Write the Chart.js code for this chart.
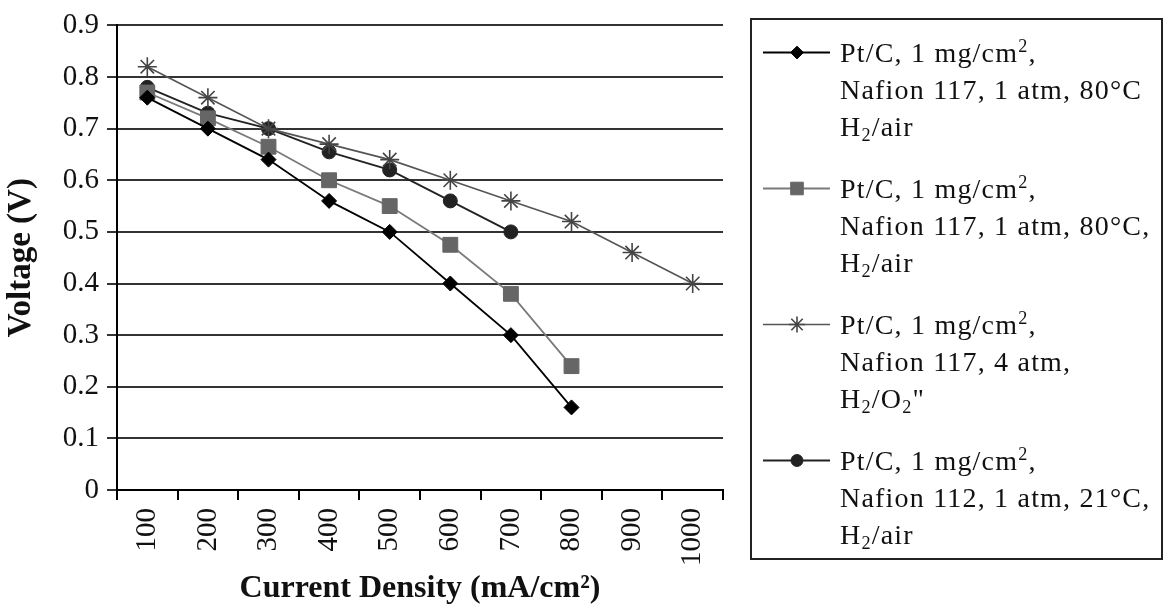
<!DOCTYPE html>
<html>
<head>
<meta charset="utf-8">
<title>Voltage vs Current Density</title>
<script src="https://cdn.jsdelivr.net/npm/chart.js@4.4.1/dist/chart.umd.min.js"></script>
<style>
  body { margin: 0; background: #fff; }
  #wrap { position: relative; width: 1164px; height: 611px; }
  #legend {
    position: absolute; left: 750px; top: 18px; width: 413px; height: 542px;
    box-sizing: border-box; border: 2px solid #222; padding-top: 14px;
    font-family: "Liberation Serif", "Times New Roman", serif;
    font-size: 28px; letter-spacing: 1.2px; color: #111; line-height: 37px;
  }
  .entry { display: flex; align-items: flex-start; margin-bottom: 25px; }
  .entry canvas { margin-left: 11px; flex: none; }
  .entry .txt { margin-left: 7px; white-space: nowrap; }
  sup, sub { font-size: 0.65em; line-height: 0; }
  sup { vertical-align: 0.55em; }
  sub { vertical-align: -0.3em; }
</style>
</head>
<body>
<div id="wrap">
  <canvas id="polCurve"></canvas>
  <div id="legend"></div>
</div>
<script>
// current density categories (mA/cm2)
const currentDensity = ['100', '200', '300', '400', '500', '600', '700', '800', '900', '1000'];

// cell voltage (V) for each run
const nafion117Air80 = [0.76, 0.70, 0.64, 0.56, 0.50, 0.40, 0.30, 0.16];
const nafion117Air80b = [0.77, 0.72, 0.665, 0.60, 0.55, 0.475, 0.38, 0.24];
const nafion117O2 = [0.82, 0.76, 0.70, 0.67, 0.64, 0.60, 0.56, 0.52, 0.46, 0.40];
const nafion112Air21 = [0.78, 0.73, 0.70, 0.655, 0.62, 0.56, 0.50];

// legend text, one entry per line
const legendText = [
  ['Pt/C, 1 mg/cm<sup>2</sup>,', 'Nafion 117, 1 atm, 80°C', 'H<sub>2</sub>/air'],
  ['Pt/C, 1 mg/cm<sup>2</sup>,', 'Nafion 117, 1 atm, 80°C,', 'H<sub>2</sub>/air'],
  ['Pt/C, 1 mg/cm<sup>2</sup>,', 'Nafion 117, 4 atm,', 'H<sub>2</sub>/O<sub>2</sub>"'],
  ['Pt/C, 1 mg/cm<sup>2</sup>,', 'Nafion 112, 1 atm, 21°C,', 'H<sub>2</sub>/air']
];

const serif = '"Liberation Serif", "Times New Roman", serif';
Chart.defaults.font.family = serif;
Chart.defaults.color = '#111';

const ctx = document.getElementById('polCurve').getContext('2d');
const chart = new Chart(ctx, {
  type: 'line',
  data: {
    labels: currentDensity,
    datasets: [
      {
        label: 'Pt/C, 1 mg/cm², Nafion 117, 1 atm, 80°C H₂/air',
        data: nafion117Air80,
        borderColor: '#000', borderWidth: 1.8,
        pointStyle: 'rectRot', pointRadius: 7.5,
        pointBackgroundColor: '#000', pointBorderColor: '#000', pointBorderWidth: 1
      },
      {
        label: 'Pt/C, 1 mg/cm², Nafion 117, 1 atm, 80°C, H₂/air',
        data: nafion117Air80b,
        borderColor: '#7a7a7a', borderWidth: 1.8,
        pointStyle: 'rect', pointRadius: 10.5,
        pointBackgroundColor: '#666', pointBorderColor: '#666', pointBorderWidth: 1
      },
      {
        label: 'Pt/C, 1 mg/cm², Nafion 117, 4 atm, H₂/O₂"',
        data: nafion117O2,
        borderColor: '#555', borderWidth: 1.6,
        pointStyle: 'star', pointRadius: 9.5,
        pointBackgroundColor: '#444', pointBorderColor: '#444', pointBorderWidth: 1.6
      },
      {
        label: 'Pt/C, 1 mg/cm², Nafion 112, 1 atm, 21°C, H₂/air',
        data: nafion112Air21,
        borderColor: '#222', borderWidth: 1.8,
        pointStyle: 'circle', pointRadius: 7,
        pointBackgroundColor: '#222', pointBorderColor: '#222', pointBorderWidth: 1
      }
    ]
  },
  options: {
    responsive: true,
    maintainAspectRatio: false,
    animation: false,
    layout: { padding: { top: 20, right: 441, bottom: 0, left: 0 } },
    plugins: {
      legend: { display: false },
      tooltip: { enabled: false }
    },
    scales: {
      x: {
        offset: true,
        afterFit: s => { s.height = 121; },
        grid: {
          offset: true,
          drawOnChartArea: true,
          tickLength: 10,
          tickColor: '#000',
          lineWidth: 2,
          // only the right-hand frame line is drawn across the plot
          color: c => (c.index === currentDensity.length ? '#000' : 'rgba(0,0,0,0)')
        },
        border: { color: '#000', width: 2 },
        ticks: {
          minRotation: 90, maxRotation: 90, padding: 8,
          font: { size: 29 }, color: '#111'
        },
        title: {
          display: true,
          text: 'Current Density (mA/cm²)',
          font: { size: 32, weight: 'bold' }, color: '#111',
          padding: { top: 4, bottom: 3 }
        }
      },
      y: {
        min: 0, max: 0.9,
        afterFit: s => { s.width = 117; },
        grid: { color: '#333', lineWidth: 2, tickLength: 10, tickColor: '#333' },
        border: { color: '#000', width: 2 },
        ticks: {
          stepSize: 0.1, padding: 8,
          font: { size: 29 }, color: '#111',
          callback: v => (v === 0 ? '0' : v.toFixed(1))
        },
        title: {
          display: true,
          text: 'Voltage (V)',
          font: { size: 33, weight: 'bold' }, color: '#111',
          padding: { top: 2, bottom: 4 }
        }
      }
    }
  }
});

// html legend with line samples drawn from each dataset's style
const legendEl = document.getElementById('legend');
chart.data.datasets.forEach((ds, i) => {
  const entry = document.createElement('div');
  entry.className = 'entry';
  const c = document.createElement('canvas');
  c.width = 70; c.height = 37;
  const g = c.getContext('2d');
  g.strokeStyle = ds.borderColor;
  g.lineWidth = ds.borderWidth;
  g.beginPath(); g.moveTo(0, 18.5); g.lineTo(67, 18.5); g.stroke();
  g.fillStyle = ds.pointBackgroundColor;
  g.strokeStyle = ds.pointBorderColor;
  g.lineWidth = ds.pointBorderWidth;
  Chart.helpers.drawPoint(g, {
    pointStyle: ds.pointStyle,
    radius: ds.pointRadius * 0.85,
    rotation: 0,
    borderWidth: ds.pointBorderWidth
  }, 34, 18.5);
  const txt = document.createElement('div');
  txt.className = 'txt';
  txt.innerHTML = legendText[i].join('<br>');
  entry.appendChild(c);
  entry.appendChild(txt);
  legendEl.appendChild(entry);
});
</script>
</body>
</html>
